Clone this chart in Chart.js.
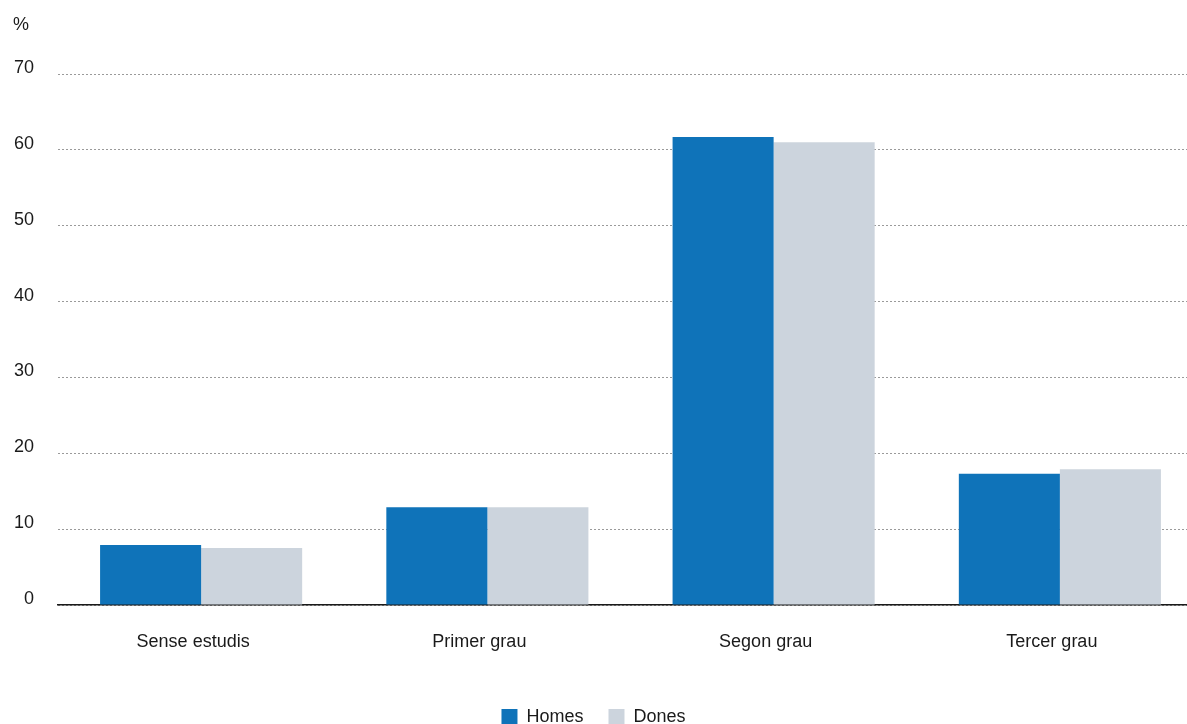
<!DOCTYPE html>
<html>
<head>
<meta charset="utf-8">
<script src="https://cdn.jsdelivr.net/npm/chart.js@4.4.1/dist/chart.umd.min.js"></script>
<style>
  html, body { margin: 0; padding: 0; background: #fff; overflow: hidden; }
  #wrap { width: 1187px; height: 724px; position: relative; }
</style>
</head>
<body>
<div id="wrap"><canvas id="c"></canvas></div>
<script>
const categories = ['Sense estudis', 'Primer grau', 'Segon grau', 'Tercer grau'];
const homes = [7.9, 12.9, 61.7, 17.3];
const dones = [7.5, 12.9, 61.0, 17.9];
const yTicks = [0, 10, 20, 30, 40, 50, 60, 70];
const unitLabel = '%';

const FONT = "'Liberation Sans', Arial, Helvetica, sans-serif";
Chart.defaults.font.family = FONT;
Chart.defaults.font.size = 18;
Chart.defaults.color = '#1a1a1a';

const unitPlugin = {
  id: 'unitLabel',
  afterDraw(chart) {
    const ctx = chart.ctx;
    const y = chart.scales.y;
    ctx.save();
    ctx.font = '18px ' + FONT;
    ctx.fillStyle = '#1a1a1a';
    ctx.textAlign = 'left';
    ctx.textBaseline = 'middle';
    ctx.fillText(unitLabel, y.left + 13, 25);
    ctx.restore();
  }
};

// The original plot area runs slightly past the right edge of the picture.
const extendPlugin = {
  id: 'extendRight',
  afterLayout(chart) {
    const ext = 16;
    const x = chart.scales.x;
    x.right += ext;
    x.width += ext;
    chart.chartArea.right += ext;
    chart.chartArea.width += ext;
    x.configure();
  }
};

new Chart(document.getElementById('c'), {
  type: 'bar',
  data: {
    labels: categories,
    datasets: [
      { label: 'Homes', data: homes, backgroundColor: '#0f73b9', categoryPercentage: 0.706, barPercentage: 1.0 },
      { label: 'Dones', data: dones, backgroundColor: '#ccd4dd', categoryPercentage: 0.706, barPercentage: 1.0 }
    ]
  },
  options: {
    responsive: true,
    maintainAspectRatio: false,
    animation: false,
    layout: { padding: { top: 74, right: 0, left: 0, bottom: -12 } },
    plugins: {
      legend: {
        position: 'bottom',
        labels: { boxWidth: 16, boxHeight: 16, padding: 25, font: { size: 18 }, color: '#1a1a1a' }
      },
      tooltip: { enabled: false }
    },
    scales: {
      x: {
        grid: { display: false, drawTicks: false },
        border: { display: true, color: '#1a1a1a', width: 1.5 },
        ticks: { padding: 26, labelOffset: -8, font: { size: 18 }, color: '#1a1a1a' },
        afterFit(scale) { scale.height = 78; }
      },
      y: {
        min: 0, max: 70,
        afterBuildTicks(scale) { scale.ticks = yTicks.map(v => ({ value: v })); },
        grid: { color: '#9a9a9a', lineWidth: 1, drawTicks: false },
        border: { display: false, dash: [2, 2] },
        ticks: { padding: 24, labelOffset: -6, font: { size: 18 }, color: '#1a1a1a' },
        afterFit(scale) { scale.width = 58; }
      }
    }
  },
  plugins: [unitPlugin, extendPlugin]
});
</script>
</body>
</html>
